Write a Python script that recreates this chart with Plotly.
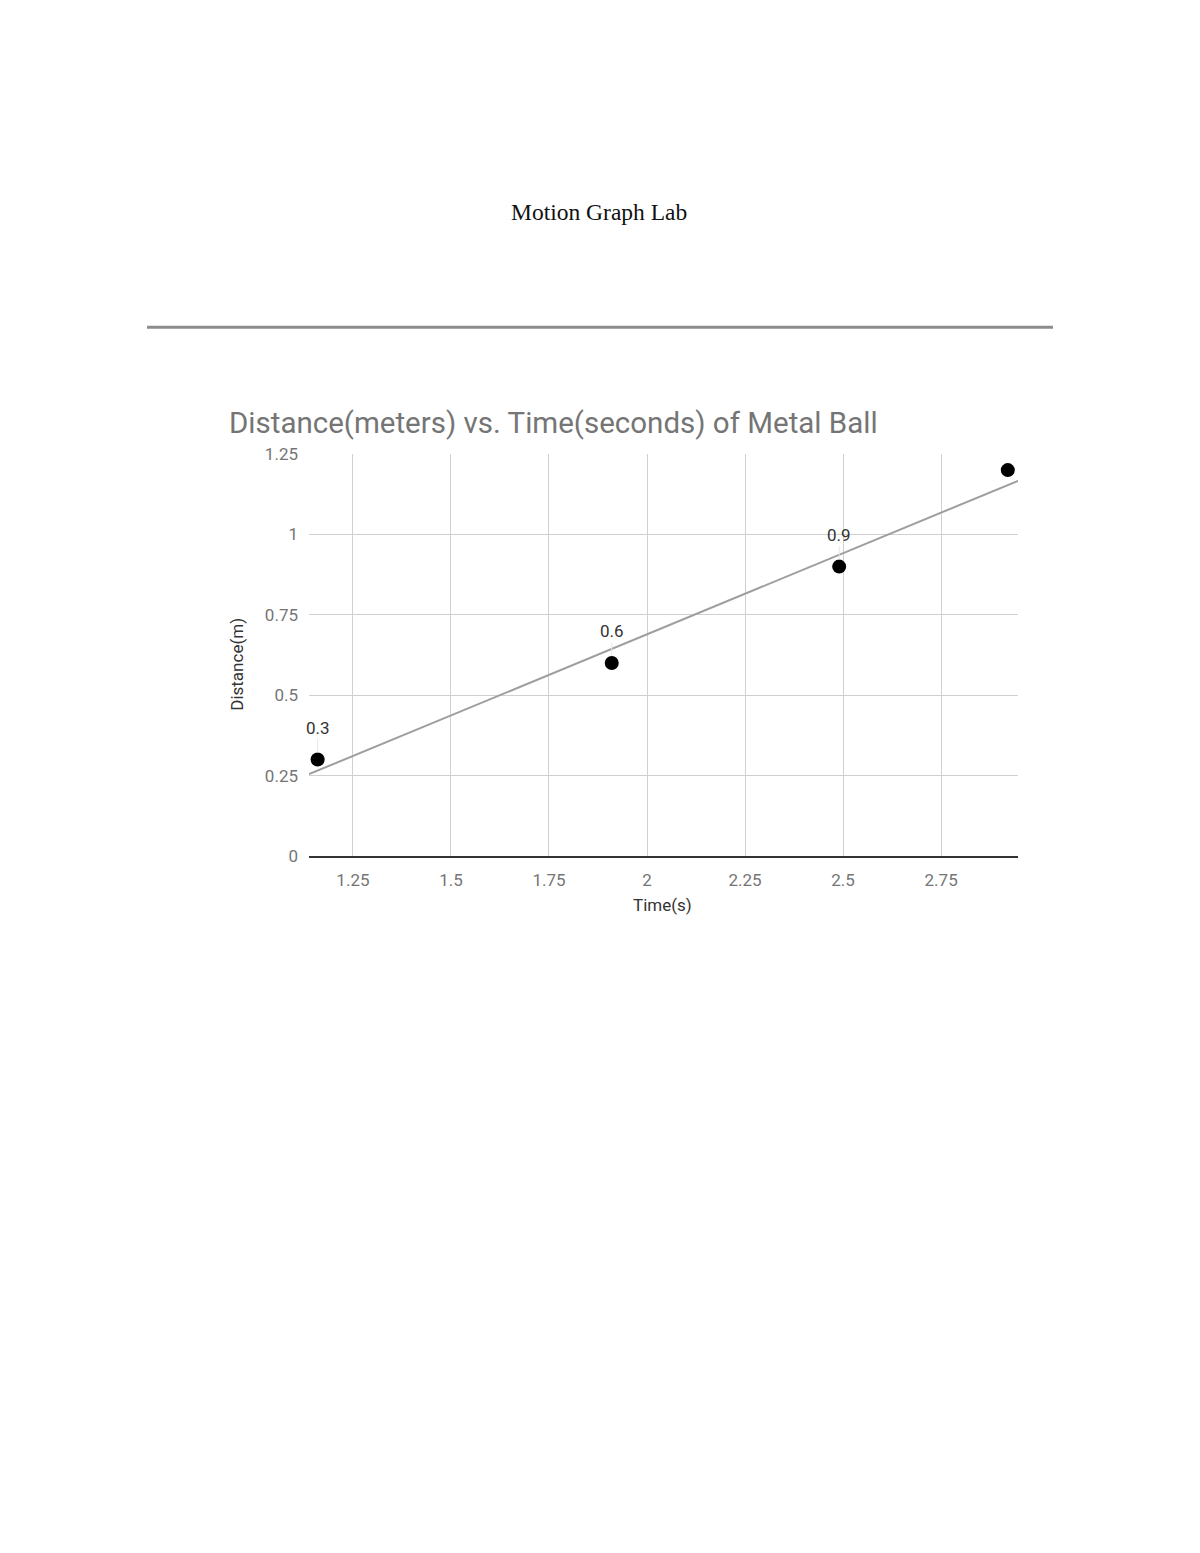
import numpy as np
import plotly.graph_objects as go

# measured data
time_s = [1.16, 1.91, 2.49, 2.92]
distance_m = [0.3, 0.6, 0.9, 1.2]
point_labels = ["0.3", "0.6", "0.9"]  # last point has no label

x_ticks = [1.25, 1.5, 1.75, 2, 2.25, 2.5, 2.75]
x_tick_text = ["1.25", "1.5", "1.75", "2", "2.25", "2.5", "2.75"]
y_ticks = [0, 0.25, 0.5, 0.75, 1, 1.25]
y_tick_text = ["0", "0.25", "0.5", "0.75", "1", "1.25"]

x_range = [1.138, 2.946]
y_range = [0, 1.25]

# body has an 8px margin; keep the figure shorter than the window so nothing scrolls
PAD = 8
W, H = 1200 - 2 * PAD, 1480


def px(x):
    return (x - PAD) / W


def py(y):
    # small vertical correction measured from the rendered page
    y = (y - 10.6) / 0.9876
    return 1 - (y - PAD) / H


# linear trendline
slope, icept = np.polyfit(time_s, distance_m, 1)
tx = np.array(x_range)
ty = slope * tx + icept

fig = go.Figure()
fig.add_trace(go.Scatter(x=tx, y=ty, mode="lines",
                         line=dict(color="#9e9e9e", width=2),
                         hoverinfo="none"))
fig.add_trace(go.Scatter(x=time_s, y=distance_m, mode="markers",
                         marker=dict(color="black", size=14),
                         cliponaxis=False))

# data labels with faint leader lines
label_notes = []
for t, d, lab in zip(time_s, distance_m, point_labels):
    label_notes.append(dict(x=t, y=d, xref="x", yref="y", text=lab,
                            showarrow=True, arrowhead=0, arrowwidth=1,
                            arrowcolor="#e6e6e6", ax=0, ay=-32, standoff=7,
                            font=dict(family="Roboto", size=17, color="#333")))

tick_font = dict(family="Roboto", size=17, color="#757575")
fig.update_xaxes(range=x_range, tickvals=x_ticks, ticktext=x_tick_text,
                 domain=[px(309), px(1018)], showgrid=True, gridcolor="#d0d0d0",
                 gridwidth=1, zeroline=False, showline=True, linecolor="#333",
                 linewidth=2, ticks="", tickfont=tick_font, ticklabelstandoff=8)
fig.update_yaxes(range=y_range, tickvals=y_ticks, ticktext=y_tick_text,
                 domain=[py(857.5), py(455)], showgrid=True, gridcolor="#d0d0d0",
                 gridwidth=1, zeroline=False, showline=False, ticks="",
                 tickfont=tick_font, ticklabelstandoff=10)

fig.add_shape(type="line", xref="paper", yref="paper",
              x0=px(147), x1=px(1053), y0=py(328), y1=py(328),
              line=dict(color="#8c8c8c", width=3))

fig.update_layout(
    width=W, height=H, autosize=False,
    margin=dict(l=0, r=0, t=0, b=0),
    paper_bgcolor="white", plot_bgcolor="white",
    showlegend=False,
    annotations=label_notes + [
        dict(text="Motion Graph Lab", x=px(599), y=py(213), xref="paper", yref="paper",
             showarrow=False, xanchor="center", yanchor="middle",
             font=dict(family="Liberation Serif", size=23.5, color="#111")),
        dict(text="Distance(meters) vs. Time(seconds) of Metal Ball", x=px(227), y=py(424),
             xref="paper", yref="paper", showarrow=False, xanchor="left", yanchor="middle",
             font=dict(family="Roboto", size=29.5, color="#757575")),
        dict(text="Time(s)", x=px(662), y=py(907), xref="paper", yref="paper",
             showarrow=False, xanchor="center", yanchor="middle",
             font=dict(family="Roboto", size=17, color="#333")),
        dict(text="Distance(m)", x=px(237), y=py(666), xref="paper", yref="paper",
             showarrow=False, xanchor="center", yanchor="middle", textangle=-90,
             font=dict(family="Roboto", size=17, color="#333")),
    ],
)

fig.write_html("out.html")
